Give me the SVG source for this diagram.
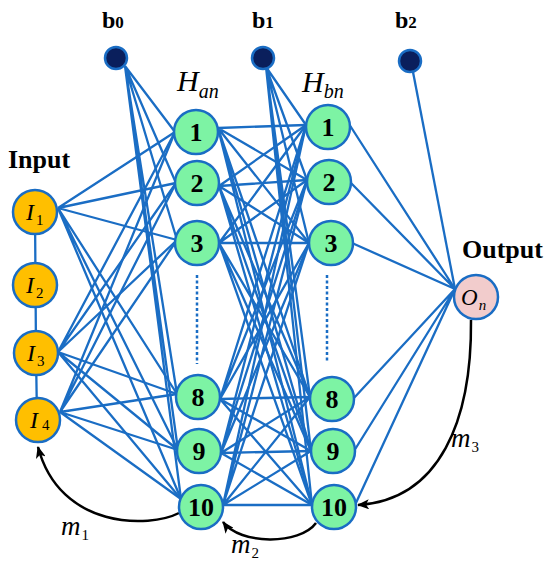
<svg xmlns="http://www.w3.org/2000/svg" width="550" height="572" viewBox="0 0 550 572">
<style>
.c{stroke:#1a6dc4;stroke-width:2.3;fill:none}
.n{stroke:#1a6dc4;stroke-width:2.5}
.ha{fill:#7df3a4}
.in{fill:#ffbf00}
.bias{fill:#0a1f5c}
.out{fill:#f2cccc}
.num{font-family:"Liberation Serif","Times New Roman",serif;font-weight:bold;font-size:26px;text-anchor:middle;fill:#000}
.it{font-family:"Liberation Serif","Times New Roman",serif;font-style:italic;fill:#000}
.sub{font-style:normal}
.lbl{font-family:"Liberation Serif","Times New Roman",serif;font-weight:bold;fill:#000}
.arc{stroke:#000;stroke-width:2.5;fill:none;marker-end:url(#ah)}
.dot{stroke:#1a6dc4;stroke-width:2.5;stroke-dasharray:3 2.5}
</style>
<defs>
<marker id="ah" viewBox="0 0 12 10" refX="11" refY="5" markerWidth="12" markerHeight="10" markerUnits="userSpaceOnUse" orient="auto">
<path d="M0,0 L12,5 L0,10 L3,5 Z" fill="#000"/>
</marker>
</defs>
<rect width="550" height="572" fill="#fff"/>
<g id="connectors">
<path class="c" d="M35,212 L36,353 L37,420"/>
<path class="c" d="M58,208 L175,132 M58,208 L176,183 M58,208 L177,240 M58,208 L177,394 M58,208 L178,450 M58,208 L181,499"/>
<path class="c" d="M58,352 L175,132 M58,352 L176,183 M58,352 L177,240 M58,352 L177,394 M58,352 L178,450 M58,352 L181,499"/>
<path class="c" d="M60,412 L175,132 M60,412 L176,183 M60,412 L177,240 M60,412 L177,394 M60,412 L178,450 M60,412 L181,499"/>
<path class="c" d="M125,66 L175,132 M125,66 L176,183 M125,66 L177,240 M125,66 L177,394 M125,66 L178,450 M125,66 L181,499"/>
<path class="c" d="M218,128 L306,125 M218,128 L307,180 M218,128 L309,243 M218,128 L310,397 M218,128 L311,451 M218,128 L312,505"/>
<path class="c" d="M219,186 L306,125 M219,186 L307,180 M219,186 L309,243 M219,186 L310,397 M219,186 L311,451 M219,186 L312,505"/>
<path class="c" d="M219,243 L306,125 M219,243 L307,180 M219,243 L309,243 M219,243 L310,397 M219,243 L311,451 M219,243 L312,505"/>
<path class="c" d="M220,399 L306,125 M220,399 L307,180 M220,399 L309,243 M220,399 L310,397 M220,399 L311,451 M220,399 L312,505"/>
<path class="c" d="M221,453 L306,125 M221,453 L307,180 M221,453 L309,243 M221,453 L310,397 M221,453 L311,451 M221,453 L312,505"/>
<path class="c" d="M223,505 L306,125 M223,505 L307,180 M223,505 L309,243 M223,505 L310,397 M223,505 L311,451 M223,505 L312,505"/>
<path class="c" d="M266,67 L306,125 M266,67 L307,180 M266,67 L309,243 M266,67 L310,397 M266,67 L311,451 M266,67 L312,505"/>
<path class="c" d="M349,124 L455,289 M350,182 L455,289 M352,243 L455,289 M353,399 L455,289 M354,451 L455,289 M355,505 L455,289"/>
<path class="c" d="M413,72 L455,289"/>
<line class="dot" x1="197" y1="275" x2="197" y2="364"/>
<line class="dot" x1="327" y1="275" x2="327" y2="363"/>
<path class="arc" d="M179,513 C150,528 60,530 38,447"/>
<path class="arc" d="M316,523 C300,545 240,545 223,522"/>
<path class="arc" d="M471,320 C472,420 440,500 358,505"/>
</g>
<g id="b0"><circle class="n bias" cx="116" cy="58" r="11"/><text class="lbl" x="102" y="28" font-size="24">b<tspan font-size="17">0</tspan></text></g>
<g id="b1"><circle class="n bias" cx="263" cy="58" r="11"/><text class="lbl" x="252" y="28" font-size="24">b<tspan font-size="17">1</tspan></text></g>
<g id="b2"><circle class="n bias" cx="410" cy="61" r="11"/><text class="lbl" x="395" y="28" font-size="24">b<tspan font-size="17">2</tspan></text></g>
<g id="I1"><circle class="n in" cx="35" cy="212" r="22"/><text class="it" x="26" y="220" font-size="24">I<tspan class="sub" font-size="15" dx="2" dy="5">1</tspan></text></g>
<g id="I2"><circle class="n in" cx="35" cy="285" r="22"/><text class="it" x="26" y="293" font-size="24">I<tspan class="sub" font-size="15" dx="2" dy="5">2</tspan></text></g>
<g id="I3"><circle class="n in" cx="36" cy="353" r="22"/><text class="it" x="27" y="361" font-size="24">I<tspan class="sub" font-size="15" dx="2" dy="5">3</tspan></text></g>
<g id="I4"><circle class="n in" cx="38" cy="420" r="22"/><text class="it" x="30" y="428" font-size="24">I<tspan class="sub" font-size="15" dx="4" dy="2">4</tspan></text></g>
<g id="A1"><circle class="n ha" cx="196" cy="132" r="22"/><text class="num" x="196" y="141">1</text></g>
<g id="A2"><circle class="n ha" cx="197" cy="183" r="22"/><text class="num" x="197" y="192">2</text></g>
<g id="A3"><circle class="n ha" cx="197" cy="243" r="22"/><text class="num" x="197" y="252">3</text></g>
<g id="A8"><circle class="n ha" cx="198" cy="397" r="22"/><text class="num" x="198" y="406">8</text></g>
<g id="A9"><circle class="n ha" cx="199" cy="451" r="22"/><text class="num" x="199" y="460">9</text></g>
<g id="A10"><circle class="n ha" cx="201" cy="507" r="22"/><text class="num" x="201" y="516">10</text></g>
<g id="B1"><circle class="n ha" cx="328" cy="127" r="22"/><text class="num" x="328" y="136">1</text></g>
<g id="B2"><circle class="n ha" cx="329" cy="182" r="22"/><text class="num" x="329" y="191">2</text></g>
<g id="B3"><circle class="n ha" cx="331" cy="243" r="22"/><text class="num" x="331" y="252">3</text></g>
<g id="B8"><circle class="n ha" cx="332" cy="399" r="22"/><text class="num" x="332" y="408">8</text></g>
<g id="B9"><circle class="n ha" cx="333" cy="451" r="22"/><text class="num" x="333" y="460">9</text></g>
<g id="B10"><circle class="n ha" cx="334" cy="507" r="22"/><text class="num" x="334" y="516">10</text></g>
<g id="O"><circle class="n out" cx="476" cy="297" r="22"/><text class="it" x="461" y="305" font-size="23">O<tspan font-size="15" dx="1" dy="5">n</tspan></text></g>
<g id="labels">
<text class="lbl" x="8" y="168" font-size="26">Input</text>
<text class="lbl" x="462" y="258" font-size="26">Output</text>
<text class="it" x="177" y="91" font-size="30">H<tspan font-size="20" dy="7">an</tspan></text>
<text class="it" x="302" y="92" font-size="30">H<tspan font-size="20" dy="6">bn</tspan></text>
<text class="it" x="61" y="535" font-size="27">m<tspan class="sub" font-size="15" dx="1" dy="5">1</tspan></text>
<text class="it" x="231" y="553" font-size="27">m<tspan class="sub" font-size="15" dx="1" dy="5">2</tspan></text>
<text class="it" x="451" y="447" font-size="27">m<tspan class="sub" font-size="15" dx="1" dy="5">3</tspan></text>
</g>
</svg>
